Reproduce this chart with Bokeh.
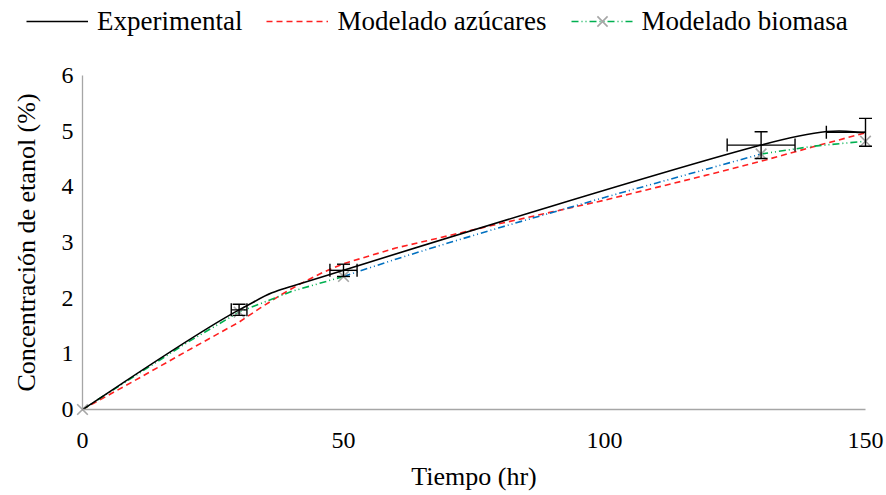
import numpy as np
from bokeh.plotting import figure
from bokeh.models import Range1d, FixedTicker, Legend, LegendItem, ColumnDataSource
from bokeh.embed import file_html
from bokeh.resources import INLINE

# Experimental data
exp_t = [0, 30, 50, 130, 150]
exp_y = [0, 1.79, 2.50, 4.75, 4.98]
exp_xerr = [0, 1.5, 2.6, 6.5, 7.5]
exp_yerr = [0, 0.10, 0.11, 0.24, 0.25]

# Modelado azúcares
azu_t = [0, 10, 20, 30, 34, 38, 42, 46, 50, 60, 70, 80, 90, 100, 110, 120, 130, 140, 150]
azu_y = [0, 0.52, 1.05, 1.57, 1.82, 2.06, 2.27, 2.46, 2.62, 2.90, 3.12, 3.34, 3.55, 3.76, 3.99, 4.22, 4.46, 4.72, 4.97]

# Modelado biomasa (three coloured stretches)
bio1_t = [0, 10, 20, 30, 40, 50]
bio1_y = [0, 0.60, 1.20, 1.75, 2.12, 2.39]
bio2_t = [50, 60, 70, 80, 90, 100, 110, 120, 130]
bio2_y = [2.39, 2.70, 2.99, 3.27, 3.54, 3.81, 4.07, 4.33, 4.59]
bio3_t = [130, 140, 150]
bio3_y = [4.59, 4.73, 4.82]
bio_mark_t = [0, 30, 50, 130, 150]
bio_mark_y = [0, 1.75, 2.39, 4.59, 4.82]

x_ticks = [0, 50, 100, 150]
y_ticks = [0, 1, 2, 3, 4, 5, 6]
series_labels = ["Experimental", "Modelado azúcares", "Modelado biomasa"]

FONT = "Liberation Serif"
RED, GREEN, BLUE, GRAY = "#ff2020", "#00b050", "#0070c0", "#a6a6a6"
DASH_BIO = "7 3 1 3 1 3"

# Layout: the frame fills the canvas; axes are pinned at the data origin
W, H = 886, 495
X0, X1 = x_ticks[0], x_ticks[-1]
Y0, Y1 = y_ticks[0], y_ticks[-1]
PX_L, PX_R, PX_T, PX_B = 82, 865, 75, 409   # pixel positions of the axes box
sx = (PX_R - PX_L) / (X1 - X0)
sy = (PX_B - PX_T) / (Y1 - Y0)
xr = Range1d(X0 - PX_L / sx, X1 + (W - PX_R) / sx)
yr = Range1d(Y0 - (H - PX_B) / sy, Y1 + PX_T / sy)

p = figure(width=W, height=H, output_backend="svg", toolbar_location=None,
           x_range=xr, y_range=yr,
           min_border=0, min_border_left=0, min_border_right=0, min_border_top=0, min_border_bottom=0)
p.xgrid.visible = False
p.ygrid.visible = False
p.outline_line_color = None

for ax in (p.xaxis[0], p.yaxis[0]):
    ax.axis_line_color = GRAY
    ax.axis_line_width = 1.3
    ax.major_tick_line_color = None
    ax.minor_tick_line_color = None
    ax.major_label_text_font = FONT
    ax.major_label_text_font_size = "24px"
    ax.major_label_text_color = "black"
    ax.axis_label_text_font = FONT
    ax.axis_label_text_font_size = "26px"
    ax.axis_label_text_font_style = "normal"
    ax.axis_label_text_color = "black"

p.xaxis.ticker = FixedTicker(ticks=x_ticks)
p.yaxis.ticker = FixedTicker(ticks=y_ticks)
p.xaxis.bounds = (X0, X1)
p.yaxis.bounds = (Y0, Y1)
p.xaxis.fixed_location = Y0
p.yaxis.fixed_location = X0
p.xaxis.axis_label = "Tiempo (hr)"
p.yaxis.axis_label = "Concentración de etanol (%)"
p.xaxis.major_label_standoff = 17
p.yaxis.major_label_standoff = 3
p.xaxis.axis_label_standoff = 11
p.yaxis.axis_label_standoff = 18

# Model: azúcares
r_azu = p.line(azu_t, azu_y, line_color=RED, line_width=1.6, line_dash="6 4")

# Model: biomasa
r_bio1 = p.line(bio1_t, bio1_y, line_color=GREEN, line_width=1.6, line_dash=DASH_BIO)
p.line(bio2_t, bio2_y, line_color=BLUE, line_width=1.6, line_dash=DASH_BIO)
p.line(bio3_t, bio3_y, line_color=GREEN, line_width=1.6, line_dash=DASH_BIO)
r_bio_m = p.scatter(bio_mark_t, bio_mark_y, marker="x", size=15, line_color=GRAY, line_width=1.6)

# Experimental: smoothed curve as bezier segments computed from the data points
n = len(exp_t)
pts = list(zip(exp_t, exp_y))
bz = dict(x0=[], y0=[], x1=[], y1=[], cx0=[], cy0=[], cx1=[], cy1=[])
for i in range(n - 1):
    p0 = pts[i - 1] if i > 0 else pts[i]
    p1 = pts[i]
    p2 = pts[i + 1]
    p3 = pts[i + 2] if i + 2 < n else pts[i + 1]
    bz["x0"].append(p1[0]); bz["y0"].append(p1[1])
    bz["x1"].append(p2[0]); bz["y1"].append(p2[1])
    bz["cx0"].append(p1[0] + (p2[0] - p0[0]) / 6); bz["cy0"].append(p1[1] + (p2[1] - p0[1]) / 6)
    bz["cx1"].append(p2[0] - (p3[0] - p1[0]) / 6); bz["cy1"].append(p2[1] - (p3[1] - p1[1]) / 6)
r_exp = p.bezier(x0="x0", y0="y0", x1="x1", y1="y1", cx0="cx0", cy0="cy0", cx1="cx1", cy1="cy1",
                 source=ColumnDataSource(bz), line_color="black", line_width=1.6)

# Error bars (cut at the plot-area edge, as in the original)
et = np.array(exp_t, dtype=float); ey = np.array(exp_y); ex = np.array(exp_xerr); eyy = np.array(exp_yerr)
m = (ex > 0)
lo = np.maximum(et[m] - ex[m], X0)
hi = np.minimum(et[m] + ex[m], X1)
p.segment(lo, ey[m], hi, ey[m], line_color="black", line_width=1.4)
p.segment(et[m], ey[m] - eyy[m], et[m], ey[m] + eyy[m], line_color="black", line_width=1.4)
p.scatter(np.concatenate([et[m], et[m]]), np.concatenate([ey[m] - eyy[m], ey[m] + eyy[m]]),
          marker="dash", size=13, line_color="black", line_width=1.4)
caps_x = np.concatenate([et[m] - ex[m], et[m] + ex[m]])
caps_y = np.concatenate([ey[m], ey[m]])
keep = (caps_x >= X0) & (caps_x <= X1)
p.scatter(caps_x[keep], caps_y[keep], marker="dash", angle=np.pi / 2, size=13,
          line_color="black", line_width=1.4)

legend = Legend(items=[
    LegendItem(label=series_labels[0], renderers=[r_exp]),
    LegendItem(label=series_labels[1], renderers=[r_azu]),
    LegendItem(label=series_labels[2], renderers=[r_bio1, r_bio_m]),
], orientation="horizontal", location=(26, H - 39),
    label_text_font=FONT, label_text_font_size="27px", label_text_color="black",
    glyph_width=62, glyph_height=36, label_standoff=9, spacing=24, padding=0, margin=0,
    border_line_color=None, background_fill_alpha=0)
p.add_layout(legend, "center")

open("out.html", "w").write(file_html(p, INLINE))
